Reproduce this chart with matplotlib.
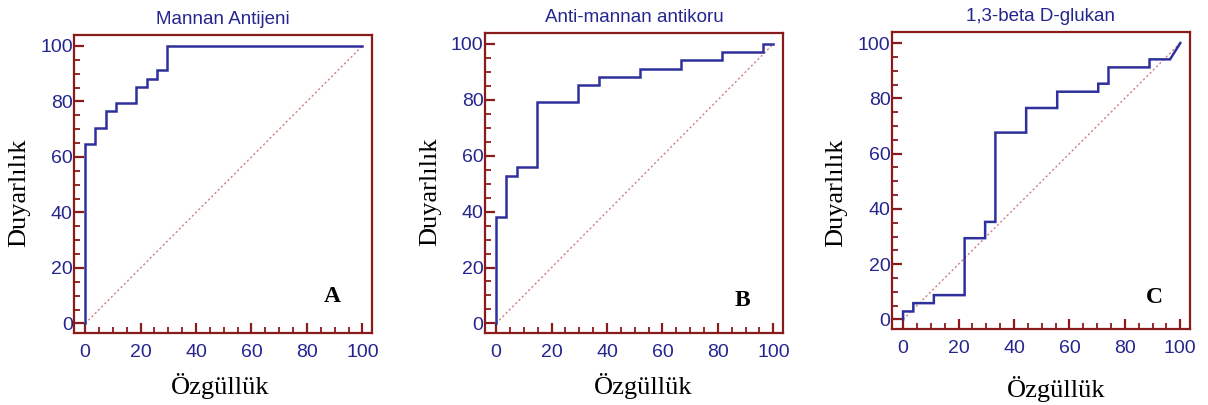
import matplotlib
matplotlib.use("Agg")
from matplotlib import pyplot as plt
from matplotlib.ticker import MultipleLocator

titles = ["Mannan Antijeni", "Anti-mannan antikoru", "1,3-beta D-glukan"]
letters = ["A", "B", "C"]

# staircase vertices of each ROC curve (x = 100 - specificity, y = sensitivity)
roc_a_x = [0, 0, 3.7, 3.7, 7.4, 7.4, 11.1, 11.1, 18.5, 18.5, 22.2, 22.2,
           25.9, 25.9, 29.6, 29.6, 100]
roc_a_y = [0, 64.7, 64.7, 70.6, 70.6, 76.5, 76.5, 79.4, 79.4, 85.3, 85.3,
           88.2, 88.2, 91.2, 91.2, 100, 100]

roc_b_x = [0, 0, 3.7, 3.7, 7.4, 7.4, 14.8, 14.8, 29.6, 29.6, 37.0, 37.0,
           51.9, 51.9, 66.7, 66.7, 81.5, 81.5, 96.3, 96.3, 100]
roc_b_y = [0, 38.2, 38.2, 52.9, 52.9, 55.9, 55.9, 79.4, 79.4, 85.3, 85.3,
           88.2, 88.2, 91.2, 91.2, 94.1, 94.1, 97.1, 97.1, 100, 100]

roc_c_x = [0, 0, 3.7, 3.7, 11.1, 11.1, 22.2, 22.2, 29.6, 29.6, 33.3, 33.3,
           44.4, 44.4, 55.6, 55.6, 70.4, 70.4, 74.1, 74.1, 88.9, 88.9, 96.3, 100]
roc_c_y = [0, 2.9, 2.9, 5.9, 5.9, 8.8, 8.8, 29.4, 29.4, 35.3, 35.3, 67.6,
           67.6, 76.5, 76.5, 82.4, 82.4, 85.3, 85.3, 91.2, 91.2, 94.1, 94.1, 100]

curves = [(roc_a_x, roc_a_y), (roc_b_x, roc_b_y), (roc_c_x, roc_c_y)]

frame_color = "#8b1a1a"
blue = "#2e309c"
label_blue = "#25258f"
sans = "Liberation Sans"
serif = "Liberation Serif"

# axes rectangles in figure fractions, and label placements
boxes = [[0.0613, 0.178, 0.2467, 0.736],
         [0.4015, 0.178, 0.2467, 0.741],
         [0.7384, 0.188, 0.2467, 0.733]]
xlabel_pos = [(0.49, -0.133), (0.53, -0.133), (0.55, -0.158)]
ylabel_pos = [(-0.148, 0.47), (-0.148, 0.47), (-0.15, 0.46)]
letter_pos = [(89.3, 9.7), (88.7, 8.3), (90.6, 7.9)]

fig = plt.figure(figsize=(12.08, 4.05), dpi=100)

for i in range(3):
    ax = fig.add_axes(boxes[i])
    xs, ys = curves[i]
    ax.plot([0, 100], [0, 100], color="#d07f7f", lw=1.0, ls=(0, (1.5, 1.8)))
    ax.plot(xs, ys, color=blue, lw=1.8, solid_joinstyle="miter")
    ax.set_xlim(-4, 103.5)
    ax.set_ylim(-3.4, 104)

    for side in ["left", "right", "top", "bottom"]:
        ax.spines[side].set_color(frame_color)
        ax.spines[side].set_linewidth(1.6)

    ax.xaxis.set_major_locator(MultipleLocator(20))
    ax.xaxis.set_minor_locator(MultipleLocator(5))
    ax.yaxis.set_major_locator(MultipleLocator(20))
    ax.yaxis.set_minor_locator(MultipleLocator(5))
    ax.tick_params(which="both", direction="in", color=frame_color,
                   top=False, right=False)
    ax.tick_params(which="major", length=7.5, width=1.6)
    ax.tick_params(which="minor", length=4.5, width=1.3)
    ax.tick_params(axis="x", which="major", pad=8)
    ax.tick_params(axis="y", which="major", pad=1)
    for lab in ax.get_xticklabels() + ax.get_yticklabels():
        lab.set_fontfamily(sans)
        lab.set_fontsize(14)
        lab.set_color(label_blue)

    ax.set_title(titles[i], fontfamily=sans, fontsize=13.5, color=label_blue, pad=8)
    ax.set_xlabel("Özgüllük", fontfamily=serif, fontsize=19)
    ax.set_ylabel("Duyarlılık", fontfamily=serif, fontsize=19)
    ax.xaxis.set_label_coords(*xlabel_pos[i])
    ax.yaxis.set_label_coords(*ylabel_pos[i])

    lx, ly = letter_pos[i]
    ax.text(lx, ly, letters[i], fontfamily=serif, fontsize=17, fontweight="bold",
            ha="center", va="center")

fig.savefig("out.png", dpi=100)
